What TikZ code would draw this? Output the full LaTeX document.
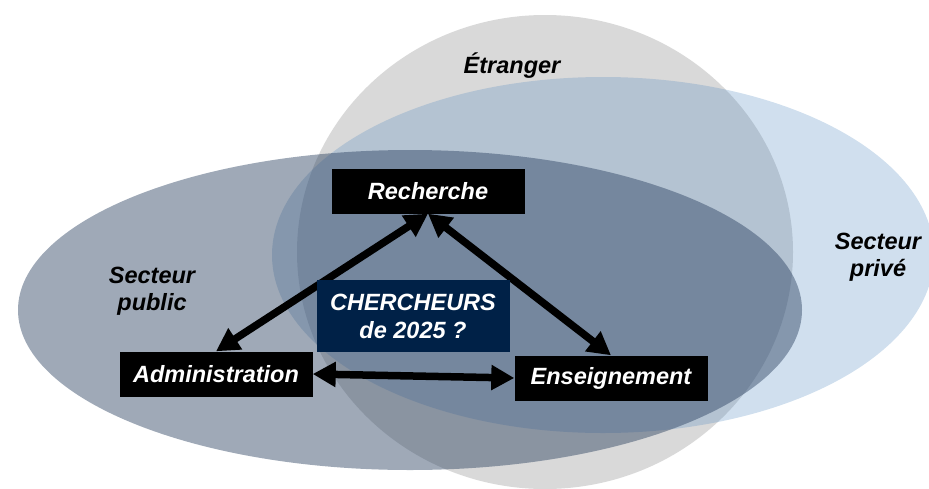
\documentclass[tikz,border=0pt]{standalone}
\usepackage{fontspec}
\setmainfont{Liberation Sans}
\usetikzlibrary{arrows.meta}
\definecolor{etrangerColor}{RGB}{217,217,217}
\definecolor{priveColor}{RGB}{81,137,192}
\definecolor{publicColor}{RGB}{42,64,95}
\definecolor{chercheursColor}{RGB}{0,33,71}
\newcommand{\labelFont}{\bfseries\itshape\fontsize{23.5}{27}\selectfont}
\newcommand{\sectorEllipses}{%%
  %% Abroad.
  \fill[etrangerColor] (etrangerCenter) ellipse [x radius=248pt,y radius=237pt];
  %% Private sector.
  \fill[priveColor,opacity=0.27] (priveCenter) ellipse [x radius=331pt,y radius=178pt];
  %% Public sector.
  \fill[publicColor,opacity=0.45] (publicCenter) ellipse [x radius=392pt,y radius=160pt];
}
\newcommand{\sectorLabels}{%%
  \node[labelStyle] (etranger) at (512,66) {Étranger};
  \node[labelStyle] (public) at (152,291) {Secteur\\public};
  \node[labelStyle] (prive) at (878,257) {Secteur\\privé};
}

\begin{document}
\begin{tikzpicture}[%%
  x=1pt,y=-1pt,%%
  labelStyle/.style={align=center,inner sep=0pt,font=\labelFont},%%
  boxStyle/.style={fill=black,text=white,inner sep=0pt,minimum width=193pt,minimum height=45pt,font=\labelFont},%%
  arrowStyle/.style={{Triangle[length=23pt,width=24pt]}-{Triangle[length=23pt,width=24pt]},line width=7.5pt}%%
]
%%
\useasboundingbox (0,0) rectangle (929,488);
%%
\coordinate (etrangerCenter) at (545,252);
\coordinate (priveCenter) at (603,255);
\coordinate (publicCenter) at (410,310);
%%
%% The three sectors.
\sectorEllipses
\sectorLabels
%%
%% The three activities.
\node[boxStyle] (recherche) at (428,191) {Recherche};
\node[boxStyle] (administration) at (216,374) {Administration};
\node[boxStyle] (enseignement) at (611,378) {Enseignement};
%%
\draw[arrowStyle] (administration.north) -- (recherche.south);
\draw[arrowStyle] (recherche.south) -- (enseignement.north);
\draw[arrowStyle] (administration.east) -- (enseignement.west);
%%
\node[boxStyle,fill=chercheursColor,minimum height=72pt,align=center,
  font=\bfseries\itshape\fontsize{23.5}{28}\selectfont] (chercheurs) at (413,316) {CHERCHEURS\\de 2025 ?};
\end{tikzpicture}
\end{document}
